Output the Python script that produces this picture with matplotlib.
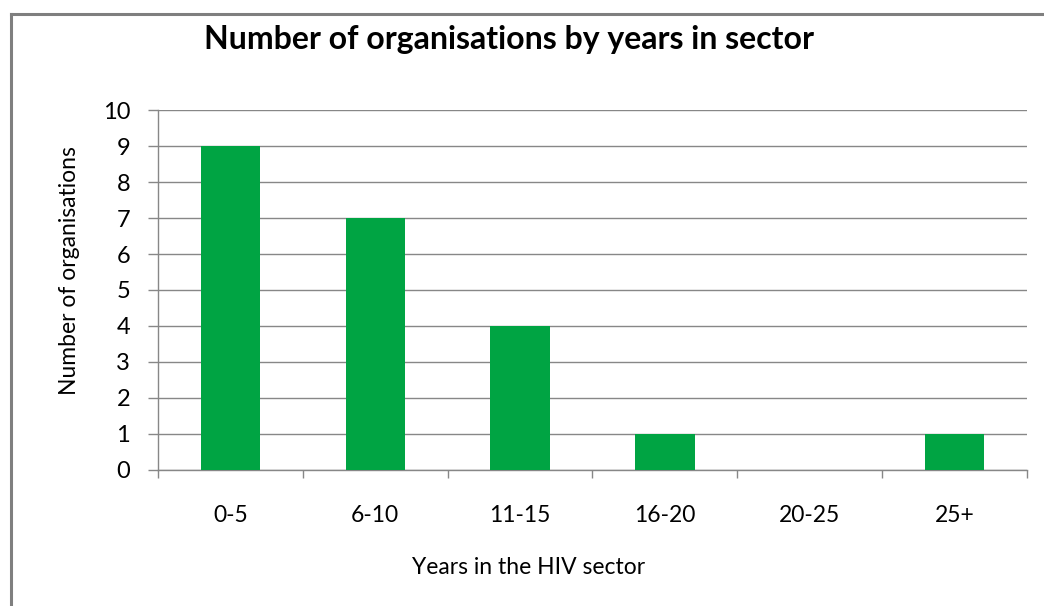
import matplotlib
matplotlib.use("Agg")
import matplotlib.pyplot as plt
from matplotlib.lines import Line2D
from matplotlib.ticker import FixedLocator, MultipleLocator

# Organisations grouped by how long they have worked in the HIV sector
categories = ["0-5", "6-10", "11-15", "16-20", "20-25", "25+"]
counts = [9, 7, 4, 1, 0, 1]

BAR_COLOR = "#00A443"
GRID_COLOR = "#878787"
FONT = ["Lato", "DejaVu Sans"]

plt.rcParams["font.family"] = FONT

fig = plt.figure(figsize=(10.44, 6.06), dpi=100)
ax = fig.add_axes([158 / 1044, 136 / 606, 869 / 1044, 360 / 606])

x = list(range(len(categories)))
ax.bar(x, counts, width=0.41, color=BAR_COLOR, zorder=3)

ax.set_xlim(-0.5, len(categories) - 0.5)
ax.set_ylim(0, 10)
ax.yaxis.set_major_locator(MultipleLocator(1))
ax.grid(axis="y", color=GRID_COLOR, linewidth=1.0, zorder=0)

# category labels sit between the boundary ticks
ax.set_xticks(x)
ax.set_xticklabels(categories)
ax.xaxis.set_minor_locator(FixedLocator([i - 0.5 for i in range(len(categories) + 1)]))
ax.tick_params(axis="x", which="major", length=0, pad=25, labelsize=16.5)
ax.tick_params(axis="x", which="minor", length=6, width=1.0, color=GRID_COLOR)
ax.tick_params(axis="y", length=7, width=1.0, color=GRID_COLOR, pad=13, labelsize=17)

for side in ("top", "right"):
    ax.spines[side].set_visible(False)
for side in ("left", "bottom"):
    ax.spines[side].set_color(GRID_COLOR)
    ax.spines[side].set_linewidth(1.0)

# axis titles placed in figure space
fig.text(529 / 1044, 1 - 568 / 606, "Years in the HIV sector",
         ha="center", va="center", fontsize=16.5)
fig.text(70 / 1044, 1 - 271 / 606, "Number of organisations",
         ha="center", va="center", rotation=90, fontsize=16.5)

fig.text(509 / 1044, 1 - 40 / 606, "Number of organisations by years in sector",
         ha="center", va="center", fontsize=23, fontweight="bold")

# chart frame, open on the right and bottom edges
fy = 1 - 13.5 / 606
fx = 11 / 1044
fig.add_artist(Line2D([fx, fx], [0, fy], transform=fig.transFigure,
                      color="#7f7f7f", linewidth=2.2))
fig.add_artist(Line2D([fx, 1], [fy, fy], transform=fig.transFigure,
                      color="#7f7f7f", linewidth=2.2))

fig.savefig("out.png", dpi=100, facecolor="white")
